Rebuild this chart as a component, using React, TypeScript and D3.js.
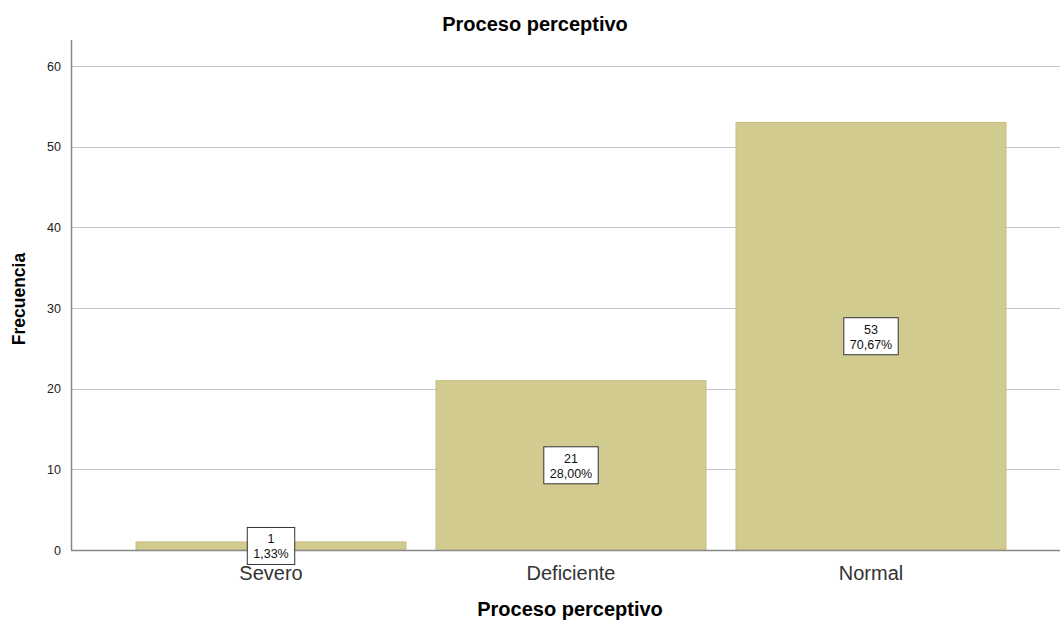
import { useEffect, useRef } from "react";
import * as d3 from "d3";

const categories = ["Severo", "Deficiente", "Normal"];
const counts = [1, 21, 53];
const percents = ["1,33%", "28,00%", "70,67%"];
const yTicks = [0, 10, 20, 30, 40, 50, 60];

const width = 1060;
const height = 622;
const margin = { top: 40, left: 71, bottom: 72, right: 0 };

const App = () => {
  const svgRef = useRef<SVGSVGElement>(null);

  useEffect(() => {
    const svg = d3.select(svgRef.current);
    svg.selectAll("*").remove();
    const font = "'Liberation Sans', Arial, sans-serif";

    const x = d3
      .scaleBand()
      .domain(categories)
      .range([121, 1021])
      .paddingInner(0.1)
      .paddingOuter(0.05);
    const y = d3
      .scaleLinear()
      .domain([0, 60])
      .range([height - margin.bottom, 66]);

    // grid
    svg
      .append("g")
      .selectAll("line")
      .data(yTicks.filter((t) => t > 0))
      .enter()
      .append("line")
      .attr("x1", margin.left)
      .attr("x2", width)
      .attr("y1", (d) => Math.round(y(d)) + 0.5)
      .attr("y2", (d) => Math.round(y(d)) + 0.5)
      .attr("stroke", "#c4c4c4")
      .attr("stroke-width", 1.2);

    // bars
    svg
      .append("g")
      .selectAll("rect")
      .data(counts)
      .enter()
      .append("rect")
      .attr("x", (_, i) => x(categories[i])!)
      .attr("y", (d) => y(d))
      .attr("width", x.bandwidth())
      .attr("height", (d) => y(0) - y(d))
      .attr("fill", "#d2cb8f")
      .attr("stroke", "#c6bf83")
      .attr("stroke-width", 1);

    // axes
    const yAxis = d3.axisLeft(y).tickValues(yTicks).tickSize(0).tickPadding(10);
    const gy = svg
      .append("g")
      .attr("transform", `translate(${margin.left},0)`)
      .call(yAxis);
    gy.select(".domain").remove();
    gy.selectAll("text")
      .attr("font-family", font)
      .attr("font-size", 12.5)
      .attr("fill", "#222");
    svg
      .append("line")
      .attr("x1", margin.left + 0.5)
      .attr("x2", margin.left + 0.5)
      .attr("y1", margin.top)
      .attr("y2", y(0))
      .attr("stroke", "#888")
      .attr("stroke-width", 1.5);

    const xAxis = d3.axisBottom(x).tickSize(0).tickPadding(16);
    const gx = svg
      .append("g")
      .attr("transform", `translate(0,${y(0)})`)
      .call(xAxis);
    gx.select(".domain").remove();
    gx.selectAll("text")
      .attr("font-family", font)
      .attr("font-size", 20)
      .attr("fill", "#333");
    svg
      .append("line")
      .attr("x1", margin.left)
      .attr("x2", width)
      .attr("y1", y(0) + 0.5)
      .attr("y2", y(0) + 0.5)
      .attr("stroke", "#888")
      .attr("stroke-width", 1.5);

    // value labels
    const lab = svg
      .append("g")
      .selectAll("g")
      .data(counts)
      .enter()
      .append("g")
      .attr(
        "transform",
        (d, i) =>
          `translate(${x(categories[i])! + x.bandwidth() / 2},${(y(0) + y(d)) / 2})`
      );
    const box = lab
      .append("rect")
      .attr("y", -18.5)
      .attr("height", 37)
      .attr("fill", "#fff")
      .attr("stroke", "#333")
      .attr("stroke-width", 1);
    lab
      .append("text")
      .attr("text-anchor", "middle")
      .attr("y", -2.5)
      .attr("font-family", font)
      .attr("font-size", 12.5)
      .attr("fill", "#111")
      .text((d) => String(d));
    const pct = lab
      .append("text")
      .attr("text-anchor", "middle")
      .attr("y", 12.5)
      .attr("font-family", font)
      .attr("font-size", 12.5)
      .attr("fill", "#111")
      .text((_, i) => percents[i]);
    const widths: number[] = [];
    pct.each(function () {
      widths.push((this as SVGTextElement).getComputedTextLength());
    });
    box
      .attr("x", (_, i) => -(widths[i] + 12) / 2)
      .attr("width", (_, i) => widths[i] + 12);

    // titles
    svg
      .append("text")
      .attr("x", 535)
      .attr("y", 31)
      .attr("text-anchor", "middle")
      .attr("font-family", font)
      .attr("font-weight", "bold")
      .attr("font-size", 20)
      .text("Proceso perceptivo");
    svg
      .append("text")
      .attr("x", 570)
      .attr("y", 616)
      .attr("text-anchor", "middle")
      .attr("font-family", font)
      .attr("font-weight", "bold")
      .attr("font-size", 20)
      .text("Proceso perceptivo");
    svg
      .append("text")
      .attr("transform", `translate(25,299) rotate(-90)`)
      .attr("text-anchor", "middle")
      .attr("font-family", font)
      .attr("font-weight", "bold")
      .attr("font-size", 17.5)
      .text("Frecuencia");
  }, []);

  return (
    <svg
      ref={svgRef}
      width={width}
      height={height}
      style={{ position: "absolute", left: 0, top: 0, background: "#fff" }}
    />
  );
};

export default App;
